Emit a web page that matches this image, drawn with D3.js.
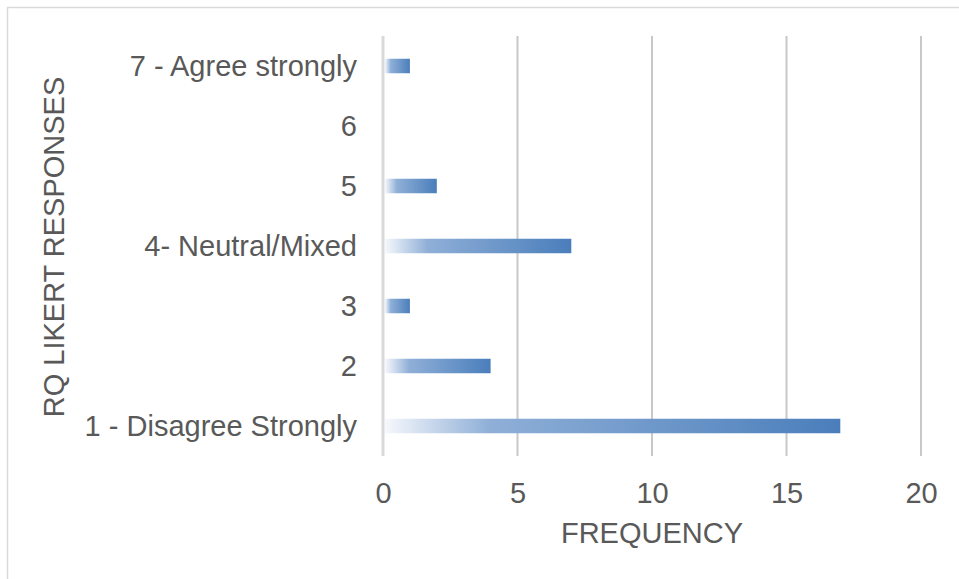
<!DOCTYPE html>
<html>
<head>
<meta charset="utf-8">
<script src="https://cdn.jsdelivr.net/npm/d3@7"></script>
<style>
  html, body { margin: 0; padding: 0; background: #fff; }
  svg { display: block; font-family: "Liberation Sans", Arial, sans-serif; }
</style>
</head>
<body>
<svg id="chart" width="959" height="579"></svg>
<script>
// Likert response categories, top to bottom
const categories = ["7 - Agree strongly", "6", "5", "4- Neutral/Mixed", "3", "2", "1 - Disagree Strongly"];
// Number of responses for each category
const frequencies = [1, 0, 2, 7, 1, 4, 17];
// Frequency axis ticks
const xTicks = [0, 5, 10, 15, 20];

const svg = d3.select("#chart");
const W = 959, H = 579;
const FONT = "29px";

// Outer chart border (only the top and left edges fall inside the frame)
svg.append("rect")
  .attr("x", 7.5).attr("y", 7.5)
  .attr("width", W + 20).attr("height", H + 20)
  .attr("fill", "#fff").attr("stroke", "#d9d9d9").attr("stroke-width", 1.5);

const plot = { left: 383, right: 921, top: 36, bottom: 456 };

const x = d3.scaleLinear().domain([0, 20]).range([plot.left, plot.right]);
const y = d3.scaleBand().domain(categories).range([plot.top, plot.bottom]).paddingInner(0).paddingOuter(0);

// Bar gradient: pale at the base, deepening to blue at the tip
const defs = svg.append("defs");
const grad = defs.append("linearGradient")
  .attr("id", "barGrad").attr("x1", "0%").attr("x2", "100%").attr("y1", "0%").attr("y2", "0%");
grad.append("stop").attr("offset", "0%").attr("stop-color", "#f6f8fc");
grad.append("stop").attr("offset", "23%").attr("stop-color", "#8fafd7");
grad.append("stop").attr("offset", "100%").attr("stop-color", "#4a7ebb");

// Vertical gridlines
svg.append("g")
  .selectAll("line")
  .data(xTicks.filter(d => d > 0))
  .join("line")
  .attr("x1", d => x(d)).attr("x2", d => x(d))
  .attr("y1", plot.top).attr("y2", plot.bottom)
  .attr("stroke", "#c8c8c8").attr("stroke-width", 2);

// Bars
const barH = 14.5;
svg.append("g")
  .selectAll("rect")
  .data(categories.map((c, i) => ({ c, v: frequencies[i] })).filter(d => d.v > 0))
  .join("rect")
  .attr("x", x(0) + 2)
  .attr("y", d => y(d.c) + y.bandwidth() / 2 - barH / 2)
  .attr("width", d => x(d.v) - x(0) - 2)
  .attr("height", barH)
  .attr("fill", "url(#barGrad)");

// Category axis line at zero
svg.append("line")
  .attr("x1", x(0)).attr("x2", x(0))
  .attr("y1", plot.top).attr("y2", plot.bottom)
  .attr("stroke", "#d9d9d9").attr("stroke-width", 3);

// Category labels
const yAxis = d3.axisLeft(y).tickSize(0).tickPadding(26);
const gy = svg.append("g").attr("transform", `translate(${x(0)},0)`).call(yAxis);
gy.select(".domain").remove();
gy.selectAll("text")
  .attr("fill", "#595959")
  .style("font-size", FONT)
  .attr("dy", "0.35em");

// Frequency tick labels
const xAxis = d3.axisBottom(x).tickValues(xTicks).tickSize(0).tickPadding(26);
const gx = svg.append("g").attr("transform", `translate(0,${plot.bottom})`).call(xAxis);
gx.select(".domain").remove();
gx.selectAll("text")
  .attr("fill", "#595959")
  .style("font-size", FONT);

// Axis titles
svg.append("text")
  .attr("x", (plot.left + plot.right) / 2).attr("y", 543)
  .attr("text-anchor", "middle")
  .attr("fill", "#595959").style("font-size", FONT)
  .text("FREQUENCY");

svg.append("text")
  .attr("transform", `translate(64,247) rotate(-90)`)
  .attr("text-anchor", "middle")
  .attr("fill", "#595959").style("font-size", FONT)
  .text("RQ LIKERT RESPONSES");
</script>
</body>
</html>
